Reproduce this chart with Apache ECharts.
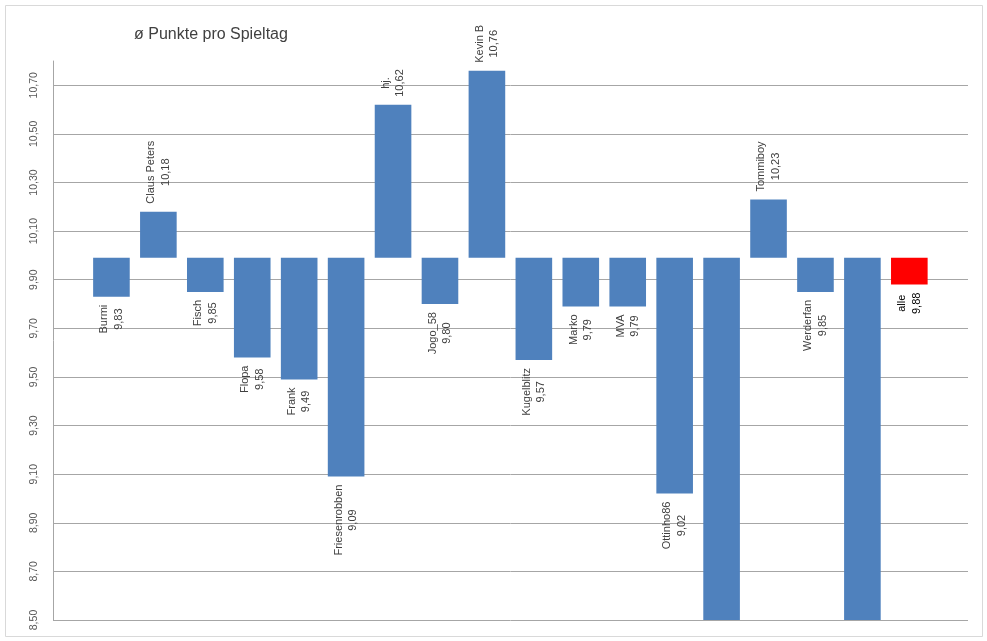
<!DOCTYPE html>
<html>
<head>
<meta charset="utf-8">
<script src="https://cdn.jsdelivr.net/npm/echarts@6/dist/echarts.min.js"></script>
<style>
html,body{margin:0;padding:0;background:#fff;}
#chart{width:987px;height:641px;}
</style>
</head>
<body>
<div id="chart"></div>
<script>
// ---- data ----
const chartTitle = 'ø Punkte pro Spieltag';
const categories = ['Burmi', 'Claus Peters', 'Fisch', 'Flopa', 'Frank', 'Friesenrobben', 'hj.', 'Jogo_58', 'Kevin B', 'Kugelblitz', 'Marko', 'MVA', 'Ottinho86', '', 'Tommiboy', 'Werderfan', '', 'alle'];
const values = [9.83, 10.18, 9.85, 9.58, 9.49, 9.09, 10.62, 9.80, 10.76, 9.57, 9.79, 9.79, 9.02, 8.30, 10.23, 9.85, 8.30, 9.88];
const baseValue = 9.99;
const yMin = 8.5, yMax = 10.8, yStep = 0.2;
const highlightCategory = 'alle';

// ---- helpers ----
const fmt = v => v.toFixed(2).replace('.', ',');
const labelFont = '11px "Liberation Sans", Arial, sans-serif';
const mctx = document.createElement('canvas').getContext('2d');
mctx.font = labelFont;
const textW = s => mctx.measureText(s).width;

const chart = echarts.init(document.getElementById('chart'), null, {renderer: 'canvas'});

const option = {
  backgroundColor: '#ffffff',
  animation: false,
  title: {
    text: chartTitle,
    left: 129,
    top: 22,
    textStyle: {fontFamily: '"Liberation Sans", Arial, sans-serif', fontSize: 16, fontWeight: 'normal', color: '#404040'}
  },
  graphic: [{
    type: 'rect',
    shape: {x: 5.5, y: 5.5, width: 977, height: 631},
    style: {fill: null, stroke: '#d9d9d9', lineWidth: 1},
    silent: true
  }],
  grid: {left: 53, right: 19, top: 61, bottom: 21, containLabel: false},
  xAxis: {
    type: 'value', min: -1.245, max: 17 + 1.25, show: false
  },
  yAxis: {
    type: 'value', min: yMin, max: yMax, interval: yStep,
    axisLine: {show: true, onZero: false, lineStyle: {color: '#a6a6a6', width: 1}},
    axisTick: {show: false},
    splitLine: {show: true, showMaxLine: false, lineStyle: {color: '#a6a6a6', width: 1}},
    axisLabel: {
      rotate: 90, margin: 13, showMaxLabel: false,
      color: '#595959', fontSize: 10.5, fontFamily: '"Liberation Sans", Arial, sans-serif',
      formatter: v => fmt(v)
    }
  },
  series: [{
    type: 'custom',
    data: values.map((v, i) => [i, v]),
    clip: false,
    renderItem: function (params, api) {
      const i = api.value(0);
      const v = api.value(1);
      const name = categories[i];
      const p0 = api.coord([i, baseValue]);
      const p1 = api.coord([i, Math.max(v, yMin)]);
      const w = api.size([1, 0])[0] * 0.78;
      const color = name === highlightCategory ? '#ff0000' : '#4f81bd';
      const children = [{
        type: 'rect',
        shape: {x: p0[0] - w / 2, y: Math.min(p0[1], p1[1]), width: w, height: Math.abs(p1[1] - p0[1])},
        style: {fill: color}
      }];
      if (v >= yMin) {
        const txt = name + '\n' + fmt(v);
        const bw = Math.max(textW(name), textW(fmt(v)));
        const gap = 8;
        const up = v > baseValue;
        const ty = up ? p1[1] - gap - bw / 2 : p1[1] + gap + bw / 2;
        children.push({
          type: 'text',
          x: p0[0], y: ty,
          rotation: Math.PI / 2,
          style: {
            text: txt, font: labelFont, fill: name === highlightCategory ? '#000000' : '#404040',
            align: 'center', verticalAlign: 'middle', lineHeight: 14.5
          }
        });
      }
      return {type: 'group', children: children};
    }
  }]
};
chart.setOption(option);
</script>
</body>
</html>
